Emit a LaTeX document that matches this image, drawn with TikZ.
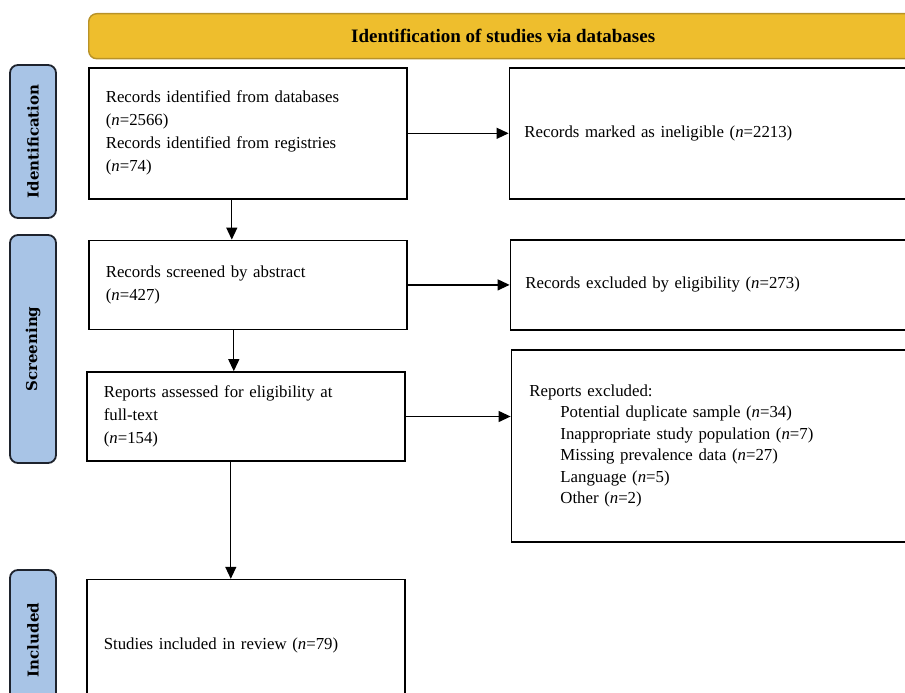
\documentclass[tikz,border=0pt]{standalone}
\usepackage{fontspec}
\setmainfont{Liberation Serif}
\newfontfamily\phasefont{DejaVu Serif}
\usepackage{tikz}
\usetikzlibrary{arrows.meta, positioning}

\definecolor{bannergold}{RGB}{238,190,45}
\definecolor{bannerrim}{RGB}{184,146,40}
\definecolor{phaseblue}{RGB}{168,196,230}
\definecolor{phaserim}{RGB}{30,35,45}

\newcommand{\nn}{\textit{n}}

\begin{document}
\begin{tikzpicture}[x=1pt, y=-1pt, >={Triangle[length=12pt, width=11pt]},
    flowbox/.style={draw, line width=1.6pt, fill=white, align=left, text width=284pt, inner xsep=17pt, font=\fontsize{16.8}{23}\selectfont},
    sidebox/.style={draw, line width=1.6pt, fill=white, align=left, text width=390pt, inner xsep=15pt, font=\fontsize{16.8}{23}\selectfont},
    banner/.style={draw=bannerrim, line width=1.4pt, fill=bannergold, rounded corners=8pt, font=\fontsize{19}{22}\selectfont\bfseries},
    phase/.style={draw=phaserim, line width=1.8pt, fill=phaseblue, rounded corners=8pt, rotate=90, minimum height=46pt, font=\phasefont\fontsize{15}{18}\selectfont\bfseries},
    flow/.style={->, line width=1.2pt}]
    \useasboundingbox (0,0) rectangle (905,693);
    \clip (0,0) rectangle (905,693);
    \node[banner, anchor=north west, minimum width=829pt, minimum height=45pt] (head) at (88,13) {Identification of studies via databases};
    \node[phase, minimum width=153pt] (ident) at (33,141.5) {Identification};
    \node[phase, minimum width=228pt] (screen) at (33,349) {Screening};
    \node[phase, minimum width=140pt] (incl) at (33,640) {Included};

    \node[flowbox, minimum height=131pt, anchor=north west] (records) at (88,67)
    {Records identified from databases\\ (\nn=2566)\\ Records identified from registries\\ (\nn=74)};
    \node[flowbox, minimum height=89pt, below=40pt of records] (screened)
    {Records screened by abstract\\ (\nn=427)};
    \node[flowbox, minimum height=89pt, below=41pt of screened, xshift=-2pt] (fulltext)
    {Reports assessed for eligibility at\\ full-text\\ (\nn=154)};
    \node[flowbox, minimum height=132pt, below=117pt of fulltext] (included)
    {Studies included in review (\nn=79)};

    \node[sidebox, minimum height=131pt, right=101pt of records] (inelig)
    {Records marked as ineligible (\nn=2213)};
    \node[sidebox, minimum height=90pt, right=102pt of screened] (exclelig)
    {Records excluded by eligibility (\nn=273)};
    \node[sidebox, minimum height=192pt, right=105pt of fulltext, yshift=-29.5pt, font=\fontsize{16.8}{21.5}\selectfont] (exclrep)
    {\hspace*{3pt}Reports excluded:\\
     \hspace*{34pt}Potential duplicate sample (\nn=34)\\
     \hspace*{34pt}Inappropriate study population (\nn=7)\\
     \hspace*{34pt}Missing prevalence data (\nn=27)\\
     \hspace*{34pt}Language (\nn=5)\\
     \hspace*{34pt}Other (\nn=2)};

    \draw[flow] (records) -- (inelig);
    \draw[flow] (screened) -- (exclelig);
    \draw[flow] (fulltext.east) -- (fulltext.east -| exclrep.west);
    \draw[flow] ([xshift=-16pt]records.south) -- ([xshift=-16pt]records.south |- screened.north);
    \draw[flow] ([xshift=-14pt]screened.south) -- ([xshift=-14pt]screened.south |- fulltext.north);
    \draw[flow] ([xshift=-15pt]fulltext.south) -- ([xshift=-15pt]fulltext.south |- included.north);
\end{tikzpicture}
\end{document}
